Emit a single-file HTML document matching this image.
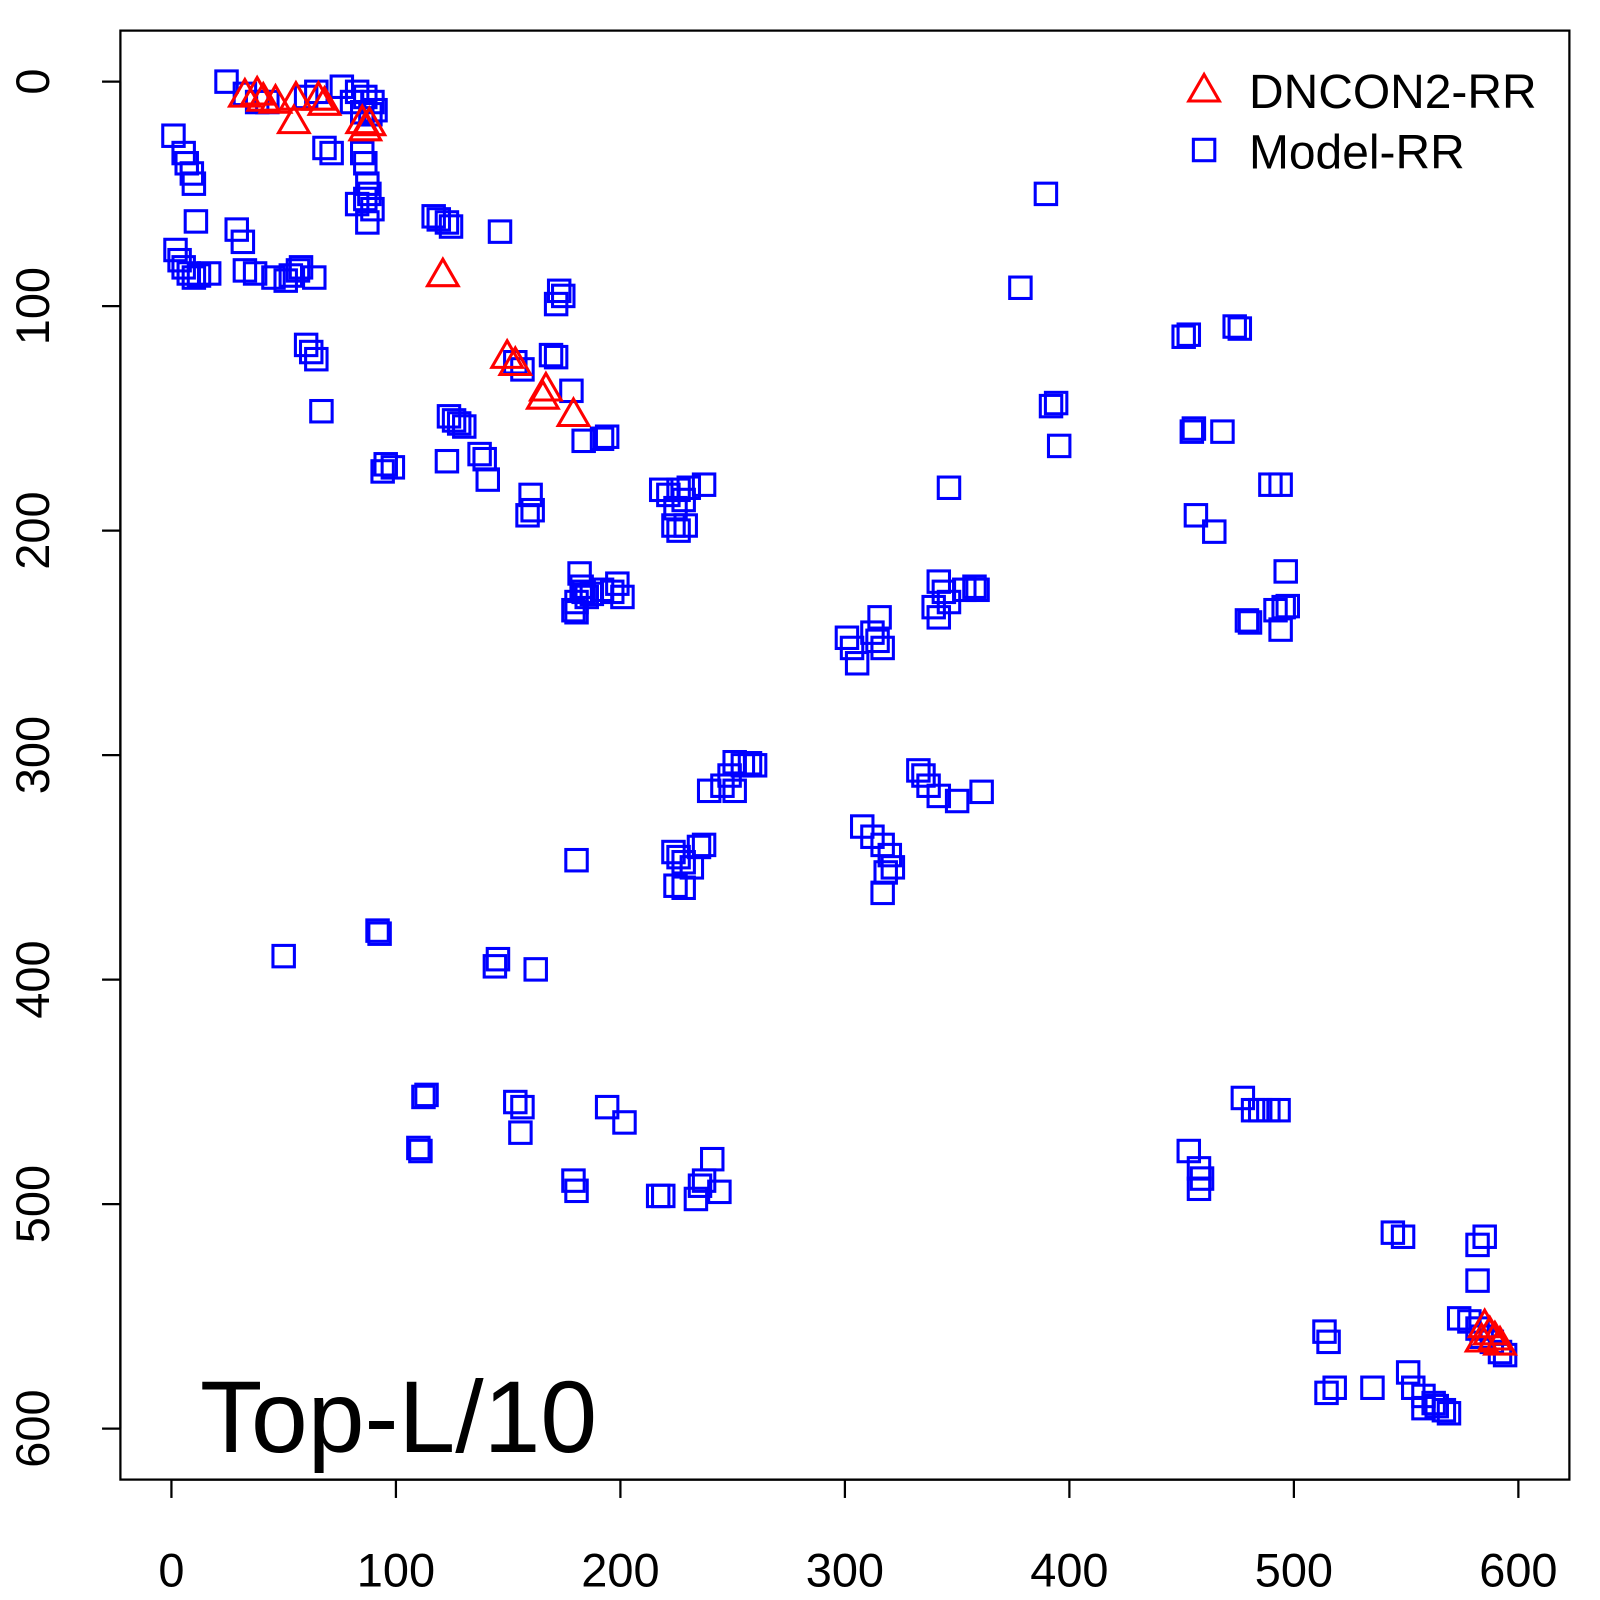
<!DOCTYPE html>
<html><head><meta charset="utf-8"><style>html,body{margin:0;padding:0;background:#fff}svg{display:block}</style></head>
<body>
<svg width="1600" height="1600" viewBox="0 0 1568 1568" xmlns="http://www.w3.org/2000/svg" font-family="Liberation Sans, sans-serif">
<defs>
<rect id="s" x="-10.5" y="-10.5" width="21" height="21" fill="none" stroke="#0000ff" stroke-width="3"/>
<path id="t" d="M0,-14 L15,12 L-15,12 Z" fill="none" stroke="#ff0000" stroke-width="3"/>
</defs>
<rect x="118" y="30" width="1420" height="1420" fill="none" stroke="#000" stroke-width="2.2"/>
<g stroke="#000" stroke-width="2.2">
<line x1="168" y1="1450" x2="1488" y2="1450"/>
<line x1="168" y1="1450" x2="168" y2="1468"/><line x1="388" y1="1450" x2="388" y2="1468"/><line x1="608" y1="1450" x2="608" y2="1468"/><line x1="828" y1="1450" x2="828" y2="1468"/><line x1="1048" y1="1450" x2="1048" y2="1468"/><line x1="1268" y1="1450" x2="1268" y2="1468"/><line x1="1488" y1="1450" x2="1488" y2="1468"/>
<line x1="118" y1="80" x2="118" y2="1400"/>
<line x1="100" y1="80" x2="118" y2="80"/><line x1="100" y1="300" x2="118" y2="300"/><line x1="100" y1="520" x2="118" y2="520"/><line x1="100" y1="740" x2="118" y2="740"/><line x1="100" y1="960" x2="118" y2="960"/><line x1="100" y1="1180" x2="118" y2="1180"/><line x1="100" y1="1400" x2="118" y2="1400"/>
</g>
<g font-size="46" text-anchor="middle" fill="#000">
<text x="168" y="1555">0</text><text x="388" y="1555">100</text><text x="608" y="1555">200</text><text x="828" y="1555">300</text><text x="1048" y="1555">400</text><text x="1268" y="1555">500</text><text x="1488" y="1555">600</text>
<text transform="translate(48,80) rotate(-90)">0</text>
<text transform="translate(48,300) rotate(-90)">100</text>
<text transform="translate(48,520) rotate(-90)">200</text>
<text transform="translate(48,740) rotate(-90)">300</text>
<text transform="translate(48,960) rotate(-90)">400</text>
<text transform="translate(48,1180) rotate(-90)">500</text>
<text transform="translate(48,1400) rotate(-90)">600</text>
</g>
<g id="sq"></g>
<g id="tr"></g>
<use href="#t" x="1180" y="87"/>
<use href="#s" x="1180" y="147"/>
<text x="1224" y="106" font-size="47">DNCON2-RR</text>
<text x="1224" y="165" font-size="47">Model-RR</text>
<text x="196" y="1423" font-size="100">Top-L/10</text>
<script>
var S=[[222,80],[240,92],[252,100],[262,100],[300,95],[310,90],[335,85],[350,90],[358,95],[365,100],[368,108],[363,112],[355,110],[345,100],[318,145],[325,150],[355,150],[358,160],[360,180],[362,190],[358,195],[350,200],[365,205],[360,218],[170,133],[180,150],[183,160],[188,170],[190,180],[192,217],[232,225],[238,237],[172,245],[176,255],[180,262],[185,268],[190,272],[195,270],[205,268],[240,265],[250,268],[268,272],[280,275],[285,270],[292,265],[295,262],[308,272],[300,338],[305,345],[310,352],[315,403],[425,212],[430,215],[438,218],[442,222],[490,227],
[548,285],[552,290],[545,298],[1000,282],[1025,190],[1160,330],[1165,328],[1215,322],[1210,320],[1030,398],[1035,395],[1038,437],[930,478],[1170,420],[1168,423],[1198,423],[1172,505],[1190,521],[1245,475],[1255,475],[1260,560],[1258,595],[1262,594],[1250,598],[1255,617],[1222,608],[1225,610],
[540,348],[545,350],[505,355],[512,362],[560,383],[572,432],[590,430],[595,428],[440,408],[445,412],[450,415],[455,418],[438,452],[470,445],[475,450],[478,470],[378,455],[385,458],[375,462],[520,485],[517,505],[522,500],[648,480],[655,485],[665,480],[690,475],[660,515],[665,520],[672,515],[662,498],[670,490],[675,478],[568,562],[570,575],[572,580],[565,590],[565,600],[575,585],[580,582],[590,578],[600,580],[605,572],[610,585],[562,598],[830,625],[835,635],[840,650],[855,620],[860,628],[862,605],[865,635],[920,570],[925,580],[930,590],[915,595],[920,605],[945,578],[955,575],[958,578],
[715,760],[708,770],[720,775],[720,747],[728,750],[735,748],[740,750],[695,775],[660,835],[665,840],[670,845],[678,850],[685,830],[690,828],[662,868],[670,870],[565,843],[900,755],[905,760],[910,770],[920,780],[938,785],[962,776],[845,810],[855,820],[865,828],[872,838],[875,850],[868,855],[865,875],
[278,937],[372,915],[370,912],[488,940],[485,947],[525,950],[418,1073],[415,1075],[410,1125],[412,1128],[505,1080],[512,1085],[510,1110],[595,1085],[612,1100],[562,1157],[565,1167],[650,1172],[645,1172],[686,1162],[690,1157],[698,1136],[705,1168],[682,1175],
[1218,1076],[1228,1088],[1235,1088],[1243,1088],[1253,1088],[1165,1128],[1175,1145],[1178,1155],[1175,1165],[1298,1305],[1302,1315],[1300,1365],[1308,1360],[1345,1360],[1380,1345],[1385,1360],[1395,1368],[1405,1375],[1415,1382],[1408,1378],[1395,1380],[1420,1385],[1365,1208],[1375,1212],[1455,1212],[1448,1220],[1448,1255],[1430,1292],[1440,1295],[1448,1302],[1452,1310],[1462,1315],[1470,1325],[1475,1328]];
var T=[[240,92],[252,90],[258,96],[270,98],[290,95],[288,118],[312,95],[318,100],[355,118],[362,120],[358,125],[434,268],[497,348],[505,355],[535,380],[532,388],[562,405],[1455,1298],[1460,1305],[1465,1310],[1470,1315],[1452,1312]];
var ns="http://www.w3.org/2000/svg";
function add(g,id,arr){var el=document.getElementById(g);arr.forEach(function(p){var u=document.createElementNS(ns,"use");u.setAttribute("href","#"+id);u.setAttribute("x",p[0]);u.setAttribute("y",p[1]);el.appendChild(u);});}
add("sq","s",S);add("tr","t",T);
</script>
</svg>
</body></html>
